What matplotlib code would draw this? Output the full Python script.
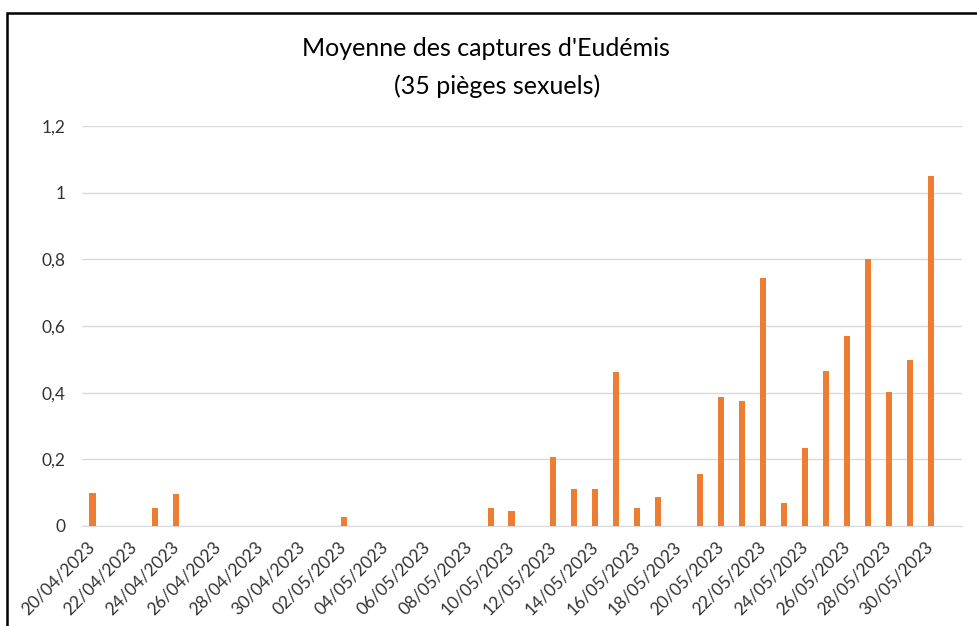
import matplotlib.pyplot as plt
import matplotlib.dates as mdates
from matplotlib.patches import Rectangle
import pandas as pd

plt.rcParams['font.family'] = ['Lato', 'DejaVu Sans']

# trap counts (mean per trap), only the days with captures
capture_dates = ['2023-04-20', '2023-04-23', '2023-04-24', '2023-05-02',
                 '2023-05-09', '2023-05-10', '2023-05-12', '2023-05-13',
                 '2023-05-14', '2023-05-15', '2023-05-16', '2023-05-17',
                 '2023-05-19', '2023-05-20', '2023-05-21', '2023-05-22',
                 '2023-05-23', '2023-05-24', '2023-05-25', '2023-05-26',
                 '2023-05-27', '2023-05-28', '2023-05-29', '2023-05-30']
captures = [0.100, 0.055, 0.097, 0.028,
            0.054, 0.045, 0.207, 0.110,
            0.110, 0.463, 0.054, 0.087,
            0.155, 0.388, 0.374, 0.745,
            0.069, 0.234, 0.466, 0.571,
            0.801, 0.401, 0.499, 1.050]

first_day = '2023-04-20'
last_day = '2023-05-30'
y_ticks = [0, 0.2, 0.4, 0.6, 0.8, 1.0, 1.2]
y_labels = ['0', '0,2', '0,4', '0,6', '0,8', '1', '1,2']

fig = plt.figure(figsize=(9.77, 6.26), dpi=100)
W, H = 977, 626
ax = fig.add_axes([82 / W, 1 - 526 / H, 880 / W, 400 / H])

x = pd.to_datetime(capture_dates)
ax.bar(x, captures, width=0.29, color='#ED7D31', zorder=3)

start = pd.Timestamp(first_day)
end = pd.Timestamp(last_day)
ax.set_xlim(start - pd.Timedelta(hours=12), end + pd.Timedelta(hours=36))
ax.set_ylim(0, 1.2)

tick_days = pd.date_range(start, end, freq='2D')
ax.set_xticks(tick_days)
ax.set_xticklabels([d.strftime('%d/%m/%Y') for d in tick_days],
                   rotation=45, ha='right', va='center', rotation_mode='anchor',
                   fontsize=12.5, color='#333333')
ax.set_yticks(y_ticks)
ax.set_yticklabels(y_labels, fontsize=12.5, color='#333333')
ax.tick_params(axis='both', length=0)
ax.tick_params(axis='y', pad=12)
ax.tick_params(axis='x', pad=13)

ax.grid(axis='y', color='#D9D9D9', linewidth=1, zorder=0)
for side in ['top', 'right', 'left']:
    ax.spines[side].set_visible(False)
ax.spines['bottom'].set_color('#D9D9D9')

fig.text(486 / W, 1 - 48 / H, "Moyenne des captures d'Eudémis",
         ha='center', va='center', fontsize=18, color='black')
fig.text(497 / W, 1 - 86 / H, "(35 pièges sexuels)",
         ha='center', va='center', fontsize=18, color='black')

fig.patches.append(Rectangle((7 / W, -0.05), 1.2, 1 - 13 / H + 0.05,
                             transform=fig.transFigure, fill=False,
                             edgecolor='black', linewidth=1.8))

fig.savefig('out.png', dpi=100)
